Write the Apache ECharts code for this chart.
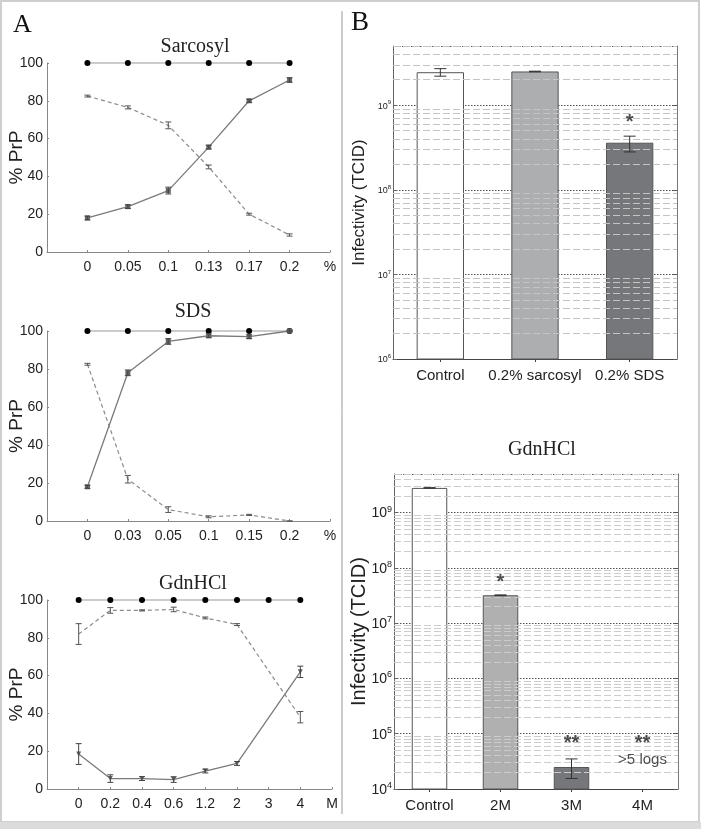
<!DOCTYPE html>
<html><head><meta charset="utf-8">
<script src="https://cdn.jsdelivr.net/npm/echarts@6/dist/echarts.min.js"></script>
<style>html,body{margin:0;padding:0;background:#fff}#c{width:701px;height:829px}</style>
</head><body><div id="c"></div>
<script>
// ---------- Panel A data ----------
const sarcCats = ['0', '0.05', '0.1', '0.13', '0.17', '0.2'];
const sarcTotal = [100, 100, 100, 100, 100, 100];
const sarcSolid = [18, 24, 32.5, 55.5, 80, 91];
const sarcSolidErr = [1, 1, 1.8, 1, 0.8, 1.2];
const sarcDashed = [82.5, 76.5, 67, 45, 20, 9];
const sarcDashedErr = [0.5, 0.8, 1.8, 1, 0.5, 0.6];

const sdsCats = ['0', '0.03', '0.05', '0.1', '0.15', '0.2'];
const sdsTotal = [100, 100, 100, 100, 100, 100];
const sdsSolid = [18, 78, 94.5, 97.5, 97, 100];
const sdsSolidErr = [0.8, 1.5, 1.5, 1, 1, 0.5];
const sdsDashed = [82.5, 22, 6, 2.2, 3.2, 0];
const sdsDashedErr = [0.5, 2, 1.5, 0.5, 0.3, 0];

const gdnCats = ['0', '0.2', '0.4', '0.6', '1.2', '2', '3', '4'];
const gdnTotal = [100, 100, 100, 100, 100, 100, 100, 100];
const gdnSolid = [18.5, 5.5, 5.5, 5, 9.5, 13.5, null, 62];
const gdnSolidErr = [5.5, 2, 1, 1.5, 1, 1, null, 3];
const gdnDashed = [82, 94.5, 94.5, 95, 90.5, 87, null, 38];
const gdnDashedErr = [5.5, 1.5, 0.3, 1.2, 0.5, 0.5, null, 3];

// ---------- Panel B data ----------
const infCats = ['Control', '0.2% sarcosyl', '0.2% SDS'];
const infVals = [2.45e9, 2.5e9, 3.6e8];
const infLow = [2.2e9, 2.48e9, 2.8e8];
const infHigh = [2.7e9, 2.52e9, 4.3e8];
const infSigText = ['', '', '*'];
const infSigY = [null, null, 6.2e8];

const gdnInfCats = ['Control', '2M', '3M', '4M'];
const gdnInfVals = [2.8e9, 3.2e7, 2.5e4, null];
const gdnInfLow = [2.77e9, 3.15e7, 1.55e4, null];
const gdnInfHigh = [2.83e9, 3.25e7, 3.5e4, null];
const gdnInfSigText = ['', '*', '**', '**'];
const gdnInfSigY = [null, 5.5e7, 6.6e4, 6.6e4];
const gdnInfNoteText = ['', '', '', '>5 logs'];
const gdnInfNoteY = [null, null, null, 3.3e4];

// ---------- helpers ----------
const FONT = 'Liberation Sans, Arial, sans-serif';
const SERIF = 'Liberation Serif, Times New Roman, serif';
function pad(arr) { return [null].concat(arr, [null]); }
function cats(c, unit) { return [''].concat(c, [unit]); }
function errData(vals, errs) {
  const out = [];
  vals.forEach((v, i) => { if (v != null && errs[i] != null) out.push([i + 1, v - errs[i], v + errs[i]]); });
  return out;
}
function errDataLH(lows, highs, offset) {
  const out = [];
  lows.forEach((l, i) => { if (l != null) out.push([i + offset, l, highs[i]]); });
  return out;
}
function errRender(color, w) {
  return function (params, api) {
    const x = api.value(0), lo = api.value(1), hi = api.value(2);
    const p1 = api.coord([x, hi]), p2 = api.coord([x, lo]);
    const st = { stroke: color, lineWidth: 1 };
    return { type: 'group', children: [
      { type: 'line', shape: { x1: p1[0], y1: p1[1], x2: p2[0], y2: p2[1] }, style: st },
      { type: 'line', shape: { x1: p1[0] - w, y1: p1[1], x2: p1[0] + w, y2: p1[1] }, style: st },
      { type: 'line', shape: { x1: p2[0] - w, y1: p2[1], x2: p2[0] + w, y2: p2[1] }, style: st }
    ] };
  };
}
function minorLogLines(fromExp, toExp, max) {
  const out = [];
  for (let e = fromExp; e <= toExp; e++) for (let m = 2; m <= 9; m++) {
    const v = m * Math.pow(10, e);
    if (v <= max) out.push({ yAxis: v });
  }
  return out;
}
function isPow10(v) { const l = Math.log10(v); return Math.abs(l - Math.round(l)) < 1e-6; }

const grids = [
  { left: 47, top: 63, width: 283, height: 189, outerBoundsMode: 'none' },
  { left: 47, top: 331, width: 283, height: 190, outerBoundsMode: 'none' },
  { left: 47, top: 600, width: 285, height: 189, outerBoundsMode: 'none' },
  { left: 393, top: 46, width: 284, height: 313, outerBoundsMode: 'none' },
  { left: 394, top: 474, width: 284, height: 315, outerBoundsMode: 'none' }
];

function aX(gi, c) {
  return { type: 'category', gridIndex: gi, data: c, boundaryGap: false,
    axisLine: { lineStyle: { color: '#888', width: 1 } },
    axisTick: { show: true, length: 2, inside: true, lineStyle: { color: '#888' } },
    axisLabel: { color: '#222', fontFamily: FONT, fontSize: 14, margin: 8, interval: 0 },
    splitLine: { show: false } };
}
function aY(gi) {
  return { type: 'value', gridIndex: gi, min: 0, max: 100, interval: 20,
    name: '% PrP', nameLocation: 'middle', nameGap: 21, nameMoveOverlap: false,
    nameTextStyle: { fontFamily: FONT, fontSize: 19, color: '#222' },
    axisLine: { show: true, lineStyle: { color: '#888' } },
    axisTick: { show: true, inside: true, length: 2, lineStyle: { color: '#888' } },
    axisLabel: { color: '#222', fontFamily: FONT, fontSize: 14, margin: 4 },
    splitLine: { show: false } };
}
function aSeries(gi, total, solid, solidErr, dashed, dashedErr, solidSym) {
  return [
    { type: 'line', xAxisIndex: gi, yAxisIndex: gi, data: pad(total), clip: false,
      symbol: 'circle', symbolSize: 6, itemStyle: { color: '#000' },
      lineStyle: { color: '#999', width: 1 }, z: 3 },
    { type: 'line', xAxisIndex: gi, yAxisIndex: gi, data: pad(solid), connectNulls: true, clip: false,
      symbol: solidSym, symbolSize: 5, symbolRotate: solidSym === 'triangle' ? 180 : 0,
      itemStyle: { color: '#666' }, lineStyle: { color: '#7a7a7a', width: 1.3 }, z: 4 },
    { type: 'line', xAxisIndex: gi, yAxisIndex: gi, data: pad(dashed), connectNulls: true, clip: false,
      symbol: 'none', lineStyle: { color: '#8a8a8a', width: 1.2, type: [4, 3] }, z: 4 },
    { type: 'custom', xAxisIndex: gi, yAxisIndex: gi, data: errData(solid, solidErr),
      renderItem: errRender('#444', 3), encode: { x: 0, y: [1, 2] }, z: 5, clip: false },
    { type: 'custom', xAxisIndex: gi, yAxisIndex: gi, data: errData(dashed, dashedErr),
      renderItem: errRender('#555', 3), encode: { x: 0, y: [1, 2] }, z: 5, clip: false }
  ];
}

function bX(gi, c) {
  return { type: 'category', gridIndex: gi, data: c,
    axisLine: { lineStyle: { color: '#444', width: 1 } },
    axisTick: { show: true, alignWithLabel: true, length: 3, lineStyle: { color: '#444' } },
    axisLabel: { color: '#222', fontFamily: FONT, fontSize: 15, margin: 9, interval: 0 },
    splitLine: { show: false } };
}
function bY(gi, min, max, nameSize, labelSize, supSize, nameGap) {
  return { type: 'log', logBase: 10, gridIndex: gi, min: min, max: max,
    name: 'Infectivity (TCID)', nameLocation: 'middle', nameGap: nameGap, nameMoveOverlap: false,
    nameTextStyle: { fontFamily: FONT, fontSize: nameSize, color: '#222' },
    axisLine: { show: true, lineStyle: { color: '#666' } },
    axisTick: { show: true, inside: true, length: 4, lineStyle: { color: '#666' } },
    axisLabel: { margin: 2, showMaxLabel: false,
      formatter: v => isPow10(v) ? '{b|10}{s|' + Math.round(Math.log10(v)) + '}' : '',
      rich: {
        b: { fontSize: labelSize, fontFamily: FONT, color: '#222', verticalAlign: 'bottom' },
        s: { fontSize: supSize, fontFamily: FONT, color: '#222', verticalAlign: 'bottom', padding: [0, 0, Math.round(labelSize * 0.5), 0] }
      },
      fontFamily: FONT, fontSize: labelSize, color: '#222', verticalAlign: 'middle' },
    splitLine: { show: true, lineStyle: { color: '#555', type: [1.5, 1.5], width: 1 } } };
}
function bYRight(gi, min, max) {
  return { type: 'log', logBase: 10, gridIndex: gi, min: min, max: max, position: 'right',
    axisLine: { show: true, lineStyle: { color: '#777' } },
    axisTick: { show: true, inside: true, length: 4, lineStyle: { color: '#555' } },
    axisLabel: { show: false }, splitLine: { show: false } };
}

const infColors = ['#ffffff', '#adaeb0', '#76777b'];
const gdnInfColors = ['#ffffff', '#b0b0b0', '#76777b', '#76777b'];

function barData(vals, colors) {
  return vals.map((v, i) => ({ value: v, itemStyle: { color: colors[i], borderColor: '#555', borderWidth: 1 } }));
}
function noteData(ys, texts) {
  const out = [];
  ys.forEach((y, i) => { if (y != null) out.push({ value: [i, y], label: { formatter: texts[i] } }); });
  return out;
}

const titleStyle = { fontFamily: SERIF, fontSize: 20, fontWeight: 'normal', color: '#222' };
const option = {
  animation: false,
  backgroundColor: '#fff',
  title: [
    { text: 'Sarcosyl', left: 190, top: 32, textAlign: 'center', textStyle: titleStyle },
    { text: 'SDS', left: 188, top: 297, textAlign: 'center', textStyle: titleStyle },
    { text: 'GdnHCl', left: 188, top: 569, textAlign: 'center', textStyle: titleStyle },
    { text: 'GdnHCl', left: 537, top: 435, textAlign: 'center', textStyle: titleStyle }
  ],
  grid: grids,
  xAxis: [
    aX(0, cats(sarcCats, '%')), aX(1, cats(sdsCats, '%')), aX(2, cats(gdnCats, 'M')),
    bX(3, infCats), bX(4, gdnInfCats)
  ],
  yAxis: [
    aY(0), aY(1), aY(2),
    bY(3, 1e6, 5e9, 17, 9, 6, 25), bYRight(3, 1e6, 5e9),
    bY(4, 1e4, 5e9, 20, 14, 9, 25), bYRight(4, 1e4, 5e9)
  ],
  graphic: [
    { type: 'rect', shape: { x: 1, y: 1, width: 698, height: 821 }, style: { fill: null, stroke: '#cfcfcf', lineWidth: 2 }, silent: true },
    { type: 'rect', shape: { x: 0, y: 822, width: 701, height: 7 }, style: { fill: '#dcdcdc' }, silent: true },
    { type: 'line', shape: { x1: 342, y1: 11, x2: 342, y2: 814 }, style: { stroke: '#999', lineWidth: 1 }, silent: true },
    { type: 'text', left: 13, top: 12, style: { text: 'A', font: '26px "Liberation Serif", serif', fill: '#111' } },
    { type: 'text', left: 351, top: 9, style: { text: 'B', font: '27px "Liberation Serif", serif', fill: '#111' } }
  ],
  series: [].concat(
    aSeries(0, sarcTotal, sarcSolid, sarcSolidErr, sarcDashed, sarcDashedErr, 'rect'),
    aSeries(1, sdsTotal, sdsSolid, sdsSolidErr, sdsDashed, sdsDashedErr, 'rect'),
    aSeries(2, gdnTotal, gdnSolid, gdnSolidErr, gdnDashed, gdnDashedErr, 'triangle'),
    [
      { type: 'scatter', xAxisIndex: 3, yAxisIndex: 3, data: [], z: 1,
        markLine: { silent: true, symbol: 'none', label: { show: false }, animation: false,
          lineStyle: { color: '#c4c4c4', type: [7, 3], width: 1 }, data: minorLogLines(6, 9, 5e9) } },
      { type: 'bar', xAxisIndex: 3, yAxisIndex: 3, barWidth: '50%', data: barData(infVals, infColors), z: 3 },
      { type: 'custom', xAxisIndex: 3, yAxisIndex: 3, data: errDataLH(infLow, infHigh, 0),
        renderItem: errRender('#333', 6), encode: { x: 0, y: [1, 2] }, z: 5 },
      { type: 'scatter', xAxisIndex: 3, yAxisIndex: 3, symbolSize: 0, z: 6,
        data: noteData(infSigY, infSigText),
        label: { show: true, position: 'inside', fontFamily: FONT, fontSize: 20, fontWeight: 'bold', color: '#222' } },
      { type: 'scatter', xAxisIndex: 4, yAxisIndex: 5, data: [], z: 1,
        markLine: { silent: true, symbol: 'none', label: { show: false }, animation: false,
          lineStyle: { color: '#cccccc', type: [7, 3], width: 1 }, data: minorLogLines(4, 9, 5e9) } },
      { type: 'bar', xAxisIndex: 4, yAxisIndex: 5, barWidth: '50%', data: barData(gdnInfVals, gdnInfColors), z: 3 },
      { type: 'custom', xAxisIndex: 4, yAxisIndex: 5, data: errDataLH(gdnInfLow, gdnInfHigh, 0),
        renderItem: errRender('#333', 6), encode: { x: 0, y: [1, 2] }, z: 5 },
      { type: 'scatter', xAxisIndex: 4, yAxisIndex: 5, symbolSize: 0, z: 6,
        data: noteData(gdnInfSigY, gdnInfSigText),
        label: { show: true, position: 'inside', fontFamily: FONT, fontSize: 20, fontWeight: 'bold', color: '#222' } },
      { type: 'scatter', xAxisIndex: 4, yAxisIndex: 5, symbolSize: 0, z: 6,
        data: noteData(gdnInfNoteY, gdnInfNoteText),
        label: { show: true, position: 'inside', fontFamily: FONT, fontSize: 15, color: '#222' } }
    ]
  )
};

const chart = echarts.init(document.getElementById('c'), null, { renderer: 'canvas' });
chart.setOption(option);
</script>
</body></html>
